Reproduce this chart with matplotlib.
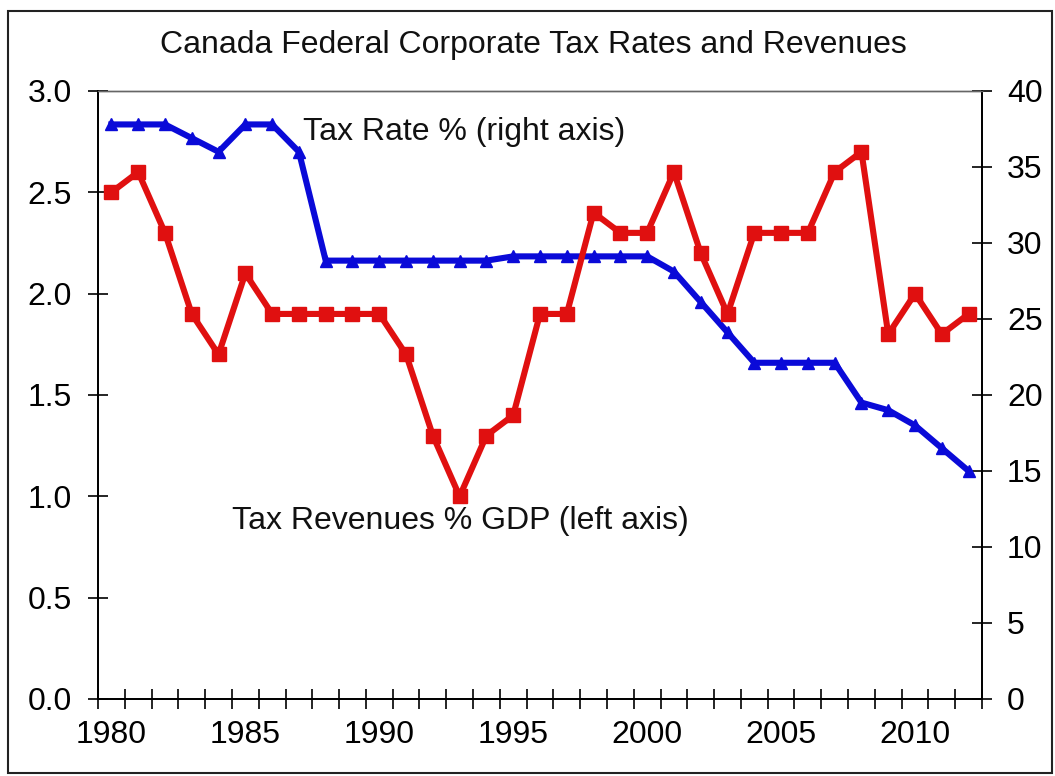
import matplotlib
matplotlib.use("Agg")
import matplotlib.pyplot as plt
from matplotlib.patches import Rectangle
from matplotlib.ticker import MultipleLocator, FixedLocator

plt.rcParams['font.family'] = ['Liberation Sans', 'DejaVu Sans']

# Data
years = list(range(1980, 2013))

# Tax revenues % GDP (left axis)
revenues = [2.5, 2.6, 2.3, 1.9, 1.7, 2.1, 1.9, 1.9, 1.9, 1.9, 1.9,
            1.7, 1.3, 1.0, 1.3, 1.4, 1.9, 1.9, 2.4, 2.3, 2.3,
            2.6, 2.2, 1.9, 2.3, 2.3, 2.3, 2.6, 2.7, 1.8, 2.0,
            1.8, 1.9]

# Tax rate % (right axis)
tax_rate = [37.8, 37.8, 37.8, 36.9, 36.0, 37.8, 37.8, 36.0, 28.84, 28.84, 28.84,
            28.84, 28.84, 28.84, 28.84, 29.12, 29.12, 29.12, 29.12, 29.12, 29.12,
            28.12, 26.12, 24.12, 22.12, 22.12, 22.12, 22.12, 19.5, 19.0, 18.0,
            16.5, 15.0]

left_ticks = [0.0, 0.5, 1.0, 1.5, 2.0, 2.5, 3.0]
right_ticks = [0, 5, 10, 15, 20, 25, 30, 35, 40]
year_labels = [1980, 1985, 1990, 1995, 2000, 2005, 2010]

title = "Canada Federal Corporate Tax Rates and Revenues"
label_rate = "Tax Rate % (right axis)"
label_rev = "Tax Revenues % GDP (left axis)"

fig = plt.figure(figsize=(10.55, 7.76), dpi=100)
fig.patches.append(Rectangle((8 / 1055, 1 - 773 / 776), 1044 / 1055, 762 / 776,
                             transform=fig.transFigure, fill=False,
                             edgecolor='#222222', linewidth=1.5))

ax1 = fig.add_axes([98 / 1055, 1 - 699 / 776, (982 - 98) / 1055, (699 - 91) / 776])
ax2 = ax1.twinx()

# red line drawn above the blue one
ax1.set_zorder(ax2.get_zorder() + 1)
ax1.patch.set_visible(False)

ax2.plot(years, tax_rate, color='#0a0ad8', linewidth=4.4, marker='^',
         markersize=9, clip_on=False)
ax1.plot(years, revenues, color='#e01010', linewidth=4.4, marker='s',
         markersize=10, clip_on=False)

ax1.set_xlim(1979.5, 2012.5)
ax1.set_ylim(0, 3.0)
ax2.set_ylim(0, 40)

ax1.yaxis.set_major_locator(FixedLocator(left_ticks))
ax1.set_yticklabels([f"{t:.1f}" for t in left_ticks])
ax2.yaxis.set_major_locator(FixedLocator(right_ticks))
ax2.set_yticklabels([str(t) for t in right_ticks])

ax1.set_xticks(year_labels)
ax1.set_xticklabels([str(y) for y in year_labels])
ax1.xaxis.set_minor_locator(MultipleLocator(1, offset=0.5))

ax1.tick_params(axis='x', which='major', length=0, labelsize=23, pad=15)
ax1.tick_params(axis='x', which='minor', direction='inout', length=14, width=1.2)
ax1.tick_params(axis='y', direction='inout', length=14, width=1.2, labelsize=23, pad=12)
ax2.tick_params(axis='y', direction='inout', length=14, width=1.2, labelsize=23, pad=11)

for ax in (ax1, ax2):
    for s in ('left', 'right', 'bottom'):
        ax.spines[s].set_linewidth(1.3)
        ax.spines[s].set_color('black')
    ax.spines['top'].set_color('#666666')
    ax.spines['top'].set_linewidth(1.0)

ax1.text(1987.15, 2.80, label_rate, fontsize=23, ha='left', va='center', color='#111111')
ax1.text(1984.5, 0.88, label_rev, fontsize=23, ha='left', va='center', color='#111111')

fig.text(533 / 1055, 1 - 45 / 776, title, fontsize=23, ha='center', va='center',
         color='#111111')

fig.savefig("out.png", dpi=100)
